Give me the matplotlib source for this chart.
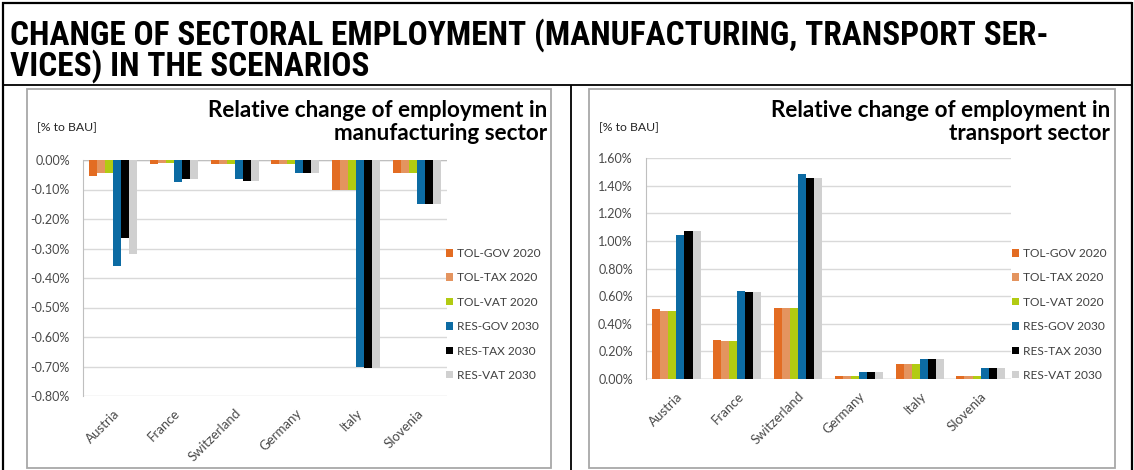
import matplotlib
matplotlib.use("Agg")
import matplotlib.pyplot as plt
import numpy as np
from matplotlib.lines import Line2D
from matplotlib.patches import Rectangle
from matplotlib import font_manager as fm

# ---------------- data ----------------
countries = ["Austria", "France", "Switzerland", "Germany", "Italy", "Slovenia"]
scenarios = ["TOL-GOV 2020", "TOL-TAX 2020", "TOL-VAT 2020",
             "RES-GOV 2030", "RES-TAX 2030", "RES-VAT 2030"]

# Relative change of employment in manufacturing sector [% to BAU]
man_tol_gov = [-0.053, -0.013, -0.013, -0.013, -0.103, -0.043]
man_tol_tax = [-0.043, -0.011, -0.013, -0.013, -0.103, -0.043]
man_tol_vat = [-0.043, -0.011, -0.013, -0.013, -0.103, -0.043]
man_res_gov = [-0.360, -0.074, -0.064, -0.045, -0.703, -0.150]
man_res_tax = [-0.265, -0.064, -0.071, -0.045, -0.706, -0.150]
man_res_vat = [-0.318, -0.064, -0.071, -0.045, -0.706, -0.150]

# Relative change of employment in transport sector [% to BAU]
tra_tol_gov = [0.510, 0.285, 0.515, 0.025, 0.105, 0.025]
tra_tol_tax = [0.495, 0.275, 0.515, 0.025, 0.105, 0.025]
tra_tol_vat = [0.495, 0.275, 0.515, 0.025, 0.105, 0.025]
tra_res_gov = [1.042, 0.640, 1.482, 0.052, 0.148, 0.080]
tra_res_tax = [1.072, 0.633, 1.458, 0.052, 0.148, 0.080]
tra_res_vat = [1.072, 0.633, 1.458, 0.052, 0.148, 0.080]

man_ticks = [0.0, -0.1, -0.2, -0.3, -0.4, -0.5, -0.6, -0.7, -0.8]
tra_ticks = [0.0, 0.2, 0.4, 0.6, 0.8, 1.0, 1.2, 1.4, 1.6]

colors = ["#E36C22", "#E4945F", "#B2CB12", "#0C6BA3", "#000000", "#D0D0D0"]

main_title_lines = ["CHANGE OF SECTORAL EMPLOYMENT (MANUFACTURING, TRANSPORT SER-",
                    "VICES) IN THE SCENARIOS"]
man_title_lines = ["Relative change of employment in", "manufacturing sector"]
tra_title_lines = ["Relative change of employment in", "transport sector"]
unit_label = "[% to BAU]"

# ---------------- fonts ----------------
def find_condensed_bold():
    prefs = ["Liberation Sans Narrow", "Roboto Condensed", "DejaVu Sans",
             "Open Sans", "Noto Sans"]
    cands = []
    for f in fm.fontManager.ttflist:
        st = str(f.stretch).lower()
        cond = ("condensed" in st or "narrow" in f.name.lower()
                or (isinstance(f.stretch, int) and f.stretch < 500)
                or "condensed" in f.fname.lower() or "narrow" in f.fname.lower())
        wt = f.weight if isinstance(f.weight, int) else 700 if "bold" in str(f.weight) else 400
        if cond and wt >= 600 and "oblique" not in f.style and "italic" not in f.style:
            cands.append(f)
    for p in prefs:
        for f in cands:
            if f.name == p:
                return f.fname
    return cands[0].fname if cands else None

cond_path = find_condensed_bold()

def has_font(name):
    try:
        fm.findfont(fm.FontProperties(family=name), fallback_to_default=False)
        return True
    except Exception:
        return False

body = "Lato" if has_font("Lato") else "DejaVu Sans"
plt.rcParams["font.family"] = [body, "DejaVu Sans"]

W, H = 1134, 470
fig = plt.figure(figsize=(W / 100, H / 100), dpi=100)
fig.patch.set_facecolor("white")

def X(px):
    return px / W

def Y(py):
    return 1 - py / H

def hline(x0, x1, y, color, lw):
    fig.add_artist(Line2D([X(x0), X(x1)], [Y(y), Y(y)], color=color, lw=lw,
                          transform=fig.transFigure, solid_capstyle="butt"))

def vline(x, y0, y1, color, lw):
    fig.add_artist(Line2D([X(x), X(x)], [Y(y0), Y(y1)], color=color, lw=lw,
                          transform=fig.transFigure, solid_capstyle="butt"))

# table borders
hline(2, 1132, 2.5, "black", 1.6)
hline(2, 1132, 85, "black", 1.3)
vline(2.5, 2, 470, "black", 1.6)
vline(1132, 2, 470, "black", 1.6)
vline(571, 85, 470, "black", 1.3)

# grey chart boxes
for (x0, y0, x1, y1) in [(27, 89, 551, 468), (589, 89, 1115, 468)]:
    fig.add_artist(Rectangle((X(x0), Y(y1)), X(x1) - X(x0), Y(y0) - Y(y1),
                             transform=fig.transFigure, fill=False,
                             edgecolor="#A8A8A8", lw=1.3))

# main title: fit first line to the reference width
if cond_path:
    tprops = dict(fontproperties=fm.FontProperties(fname=cond_path))
else:
    tprops = dict(family=["Liberation Sans", "DejaVu Sans"], fontweight="bold")
t1 = fig.text(X(10), Y(45), main_title_lines[0], fontsize=20, ha="left",
              va="baseline", color="black", **tprops)
t2 = fig.text(X(10), Y(76), main_title_lines[1], fontsize=20, ha="left",
              va="baseline", color="black", **tprops)
renderer = fig.canvas.get_renderer()
w1 = t1.get_window_extent(renderer).width
fs = 20 * 1098 / w1
fs = min(fs, 24.0)
t1.set_fontsize(fs)
t2.set_fontsize(fs)


def draw_chart(ax_px, series, ticks, ylim, title_lines, title_right, box_left,
               leg_xy):
    x0, x1, ytop, ybot = ax_px
    ax = fig.add_axes([X(x0), Y(ybot), X(x1) - X(x0), Y(ytop) - Y(ybot)])
    n = len(series)
    bw = 0.1325
    xs = np.arange(len(countries))
    handles = []
    for i, (vals, col, lab) in enumerate(zip(series, colors, scenarios)):
        off = (i - (n - 1) / 2) * bw
        h = ax.bar(xs + off, vals, width=bw, color=col, label=lab, zorder=3,
                   linewidth=0)
        handles.append(h)
    ax.set_xlim(-0.5, len(countries) - 0.5)
    ax.set_ylim(*ylim)
    ax.set_yticks(ticks)
    ax.set_yticklabels([f"{t:.2f}%" for t in ticks])
    ax.yaxis.grid(True, color="#D9D9D9", lw=1.0, zorder=0)
    ax.set_axisbelow(True)
    for s in ["top", "right", "bottom", "left"]:
        ax.spines[s].set_visible(False)
    ax.spines["left"].set_visible(True)
    ax.spines["left"].set_color("#BFBFBF")
    ax.axhline(0, color="#BFBFBF", lw=1.0, zorder=2)
    ax.tick_params(axis="y", length=0, pad=9.5, labelsize=9.0,
                   labelcolor="#4A4A4A")
    ax.set_xticks(xs)
    ax.set_xticklabels(countries, rotation=45, ha="right",
                       rotation_mode="anchor")
    ax.tick_params(axis="x", length=0, pad=8, labelsize=9.5,
                   labelcolor="#4A4A4A")
    ax.xaxis.set_ticks_position("bottom")
    fig.text(X(title_right), Y(117), title_lines[0], fontsize=16.2,
             fontweight="bold", ha="right", va="baseline", color="black")
    fig.text(X(title_right), Y(140), title_lines[1], fontsize=16.2,
             fontweight="bold", ha="right", va="baseline", color="black")
    fig.text(X(box_left + 10), Y(128), unit_label, fontsize=8.8,
             ha="left", va="center", color="#262626")
    leg = ax.legend(handles=handles, loc="upper left",
                    bbox_to_anchor=(X(leg_xy[0]), Y(leg_xy[1])),
                    bbox_transform=fig.transFigure, frameon=False,
                    fontsize=8.6, handlelength=0.6, handleheight=0.6,
                    handletextpad=0.3, labelspacing=1.12, borderpad=0,
                    borderaxespad=0)
    for t in leg.get_texts():
        t.set_color("#404040")
    return ax


draw_chart((83, 447, 160, 396),
           [man_tol_gov, man_tol_tax, man_tol_vat, man_res_gov, man_res_tax,
            man_res_vat],
           man_ticks, (-0.8, 0.0), man_title_lines, 547, 27, (446, 248))

draw_chart((646, 1011, 158, 379),
           [tra_tol_gov, tra_tol_tax, tra_tol_vat, tra_res_gov, tra_res_tax,
            tra_res_vat],
           tra_ticks, (0.0, 1.6), tra_title_lines, 1110, 589, (1012, 248))

fig.savefig("out.png", dpi=100, facecolor="white")
